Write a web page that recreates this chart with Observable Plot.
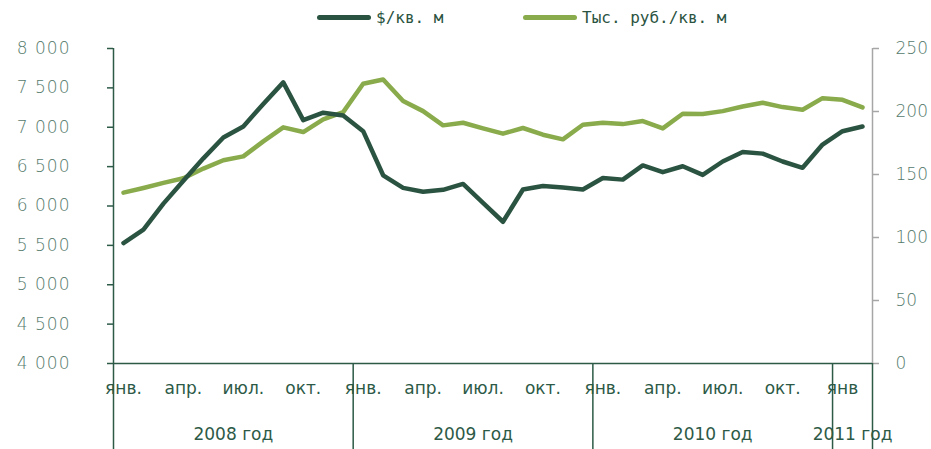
<!DOCTYPE html>
<html>
<head>
<meta charset="utf-8">
<script src="https://cdn.jsdelivr.net/npm/d3@7"></script>
<script src="https://cdn.jsdelivr.net/npm/@observablehq/plot@0.6"></script>
<style>
  body { margin: 0; background: #fff; }
  #legend { position: relative; height: 34px; width: 931px; font-family: "DejaVu Sans Mono", monospace; font-size: 16px; color: #2b5341; }
  .item { position: absolute; top: 0; height: 34px; display: flex; align-items: center; }
  .sw { display: inline-block; width: 54px; height: 5px; border-radius: 3px; margin-right: 5px; }
  .lefttick text { letter-spacing: 1px; }
</style>
</head>
<body>
<div id="legend"></div>
<div id="chart"></div>
<script>
// Month index 0 = Jan 2008 ... 37 = Feb 2011
const usdPerSqm = [5530,5700,6030,6320,6605,6870,7010,7295,7570,7090,7185,7150,
                   6950,6390,6230,6180,6205,6280,6040,5800,6210,6255,6235,6210,
                   6355,6335,6515,6430,6505,6395,6565,6685,6665,6565,6485,6780,
                   6950,7010];
const rubPerSqm = [135.6,139.3,143.3,147,154.7,161.3,164.4,176.3,187.4,183.7,193.7,199.5,
                   222,225.4,208.3,200.3,189,191.1,186.6,182.4,186.9,181.6,177.9,189.5,
                   191.1,190,192.4,186.6,198.2,198,200.3,204,207,203.5,201.4,210.6,
                   209.3,203.2];
const seriesNames = ["$/кв. м", "Тыс. руб./кв. м"];
const seriesColors = ["#2b5341", "#8aab4b"];
const monthTicks = [0,3,6,9,12,15,18,21,24,27,30,33,36];
const monthLabels = ["янв.","апр.","июл.","окт.","янв.","апр.","июл.","окт.","янв.","апр.","июл.","окт.","янв"];
const yearCenters = [5.5, 17.5, 29.5, 36.5];
const yearLabels = ["2008 год","2009 год","2010 год","2011 год"];
const yearBounds = [-0.5, 11.5, 23.5, 35.5, 37.5];
const leftTicks = [4000,4500,5000,5500,6000,6500,7000,7500,8000];
const rightTicks = [0,50,100,150,200,250];

// secondary axis mapping: 0..250 -> 4000..8000
const toLeft = v => 4000 + v * 16;

const usdData = usdPerSqm.map((v, i) => ({i, v}));
const rubData = rubPerSqm.map((v, i) => ({i, v: toLeft(v)}));

const fmt = d => String(d).replace(/\B(?=(\d{3})+(?!\d))/g, " ");

// legend
const legend = document.getElementById("legend");
const legendLeft = [317, 523];
seriesNames.forEach((name, k) => {
  const it = document.createElement("div");
  it.className = "item";
  it.style.left = legendLeft[k] + "px";
  it.innerHTML = `<span class="sw" style="background:${seriesColors[k]}"></span><span>${name}</span>`;
  legend.appendChild(it);
});

const dark = "#2d5a47";
const tickText = "#557a6c";

const chart = Plot.plot({
  width: 931,
  height: 415,
  marginTop: 14,
  marginBottom: 86,
  marginLeft: 113,
  marginRight: 59,
  x: {type: "linear", domain: [-0.5, 37.5]},
  y: {domain: [4000, 8000]},
  style: {background: "#fff", fontFamily: "DejaVu Sans"},
  marks: [
    Plot.axisY({ticks: leftTicks, tickFormat: fmt, tickSize: 6, tickPadding: 37, stroke: dark, strokeWidth: 1.5,
      fill: tickText, fontSize: 17, fontWeight: 200, fontFamily: "DejaVu Sans", label: null, className: "lefttick"}),
    Plot.axisY({anchor: "right", ticks: rightTicks.map(toLeft), tickFormat: d => String((d - 4000) / 16),
      tickSize: 6, tickPadding: 17, stroke: "#a6a6a6", strokeWidth: 1.5,
      fill: tickText, fontSize: 17, fontWeight: 200, fontFamily: "DejaVu Sans", label: null}),
    Plot.axisX({ticks: monthTicks, tickFormat: d => monthLabels[monthTicks.indexOf(d)], tickSize: 0, tickPadding: 18,
      fill: dark, fontSize: 17, label: null}),
    Plot.axisX({ticks: yearCenters, tickFormat: d => yearLabels[yearCenters.indexOf(d)], tickSize: 0, tickPadding: 64,
      fill: dark, fontSize: 17, label: null}),
    Plot.axisX({ticks: yearBounds, tickFormat: () => "", tickSize: 86, stroke: dark, strokeWidth: 1.5, label: null}),
    Plot.ruleX([37.5], {stroke: "#a6a6a6", strokeWidth: 1.5}),
    Plot.ruleX([-0.5], {stroke: dark, strokeWidth: 1.5}),
    Plot.ruleY([4000], {stroke: dark, strokeWidth: 1.5}),
    Plot.line(rubData, {x: "i", y: "v", stroke: seriesColors[1], strokeWidth: 4.5, strokeLinecap: "round", strokeLinejoin: "round"}),
    Plot.line(usdData, {x: "i", y: "v", stroke: seriesColors[0], strokeWidth: 4.5, strokeLinecap: "round", strokeLinejoin: "round"})
  ]
});
document.getElementById("chart").appendChild(chart);
</script>
</body>
</html>
